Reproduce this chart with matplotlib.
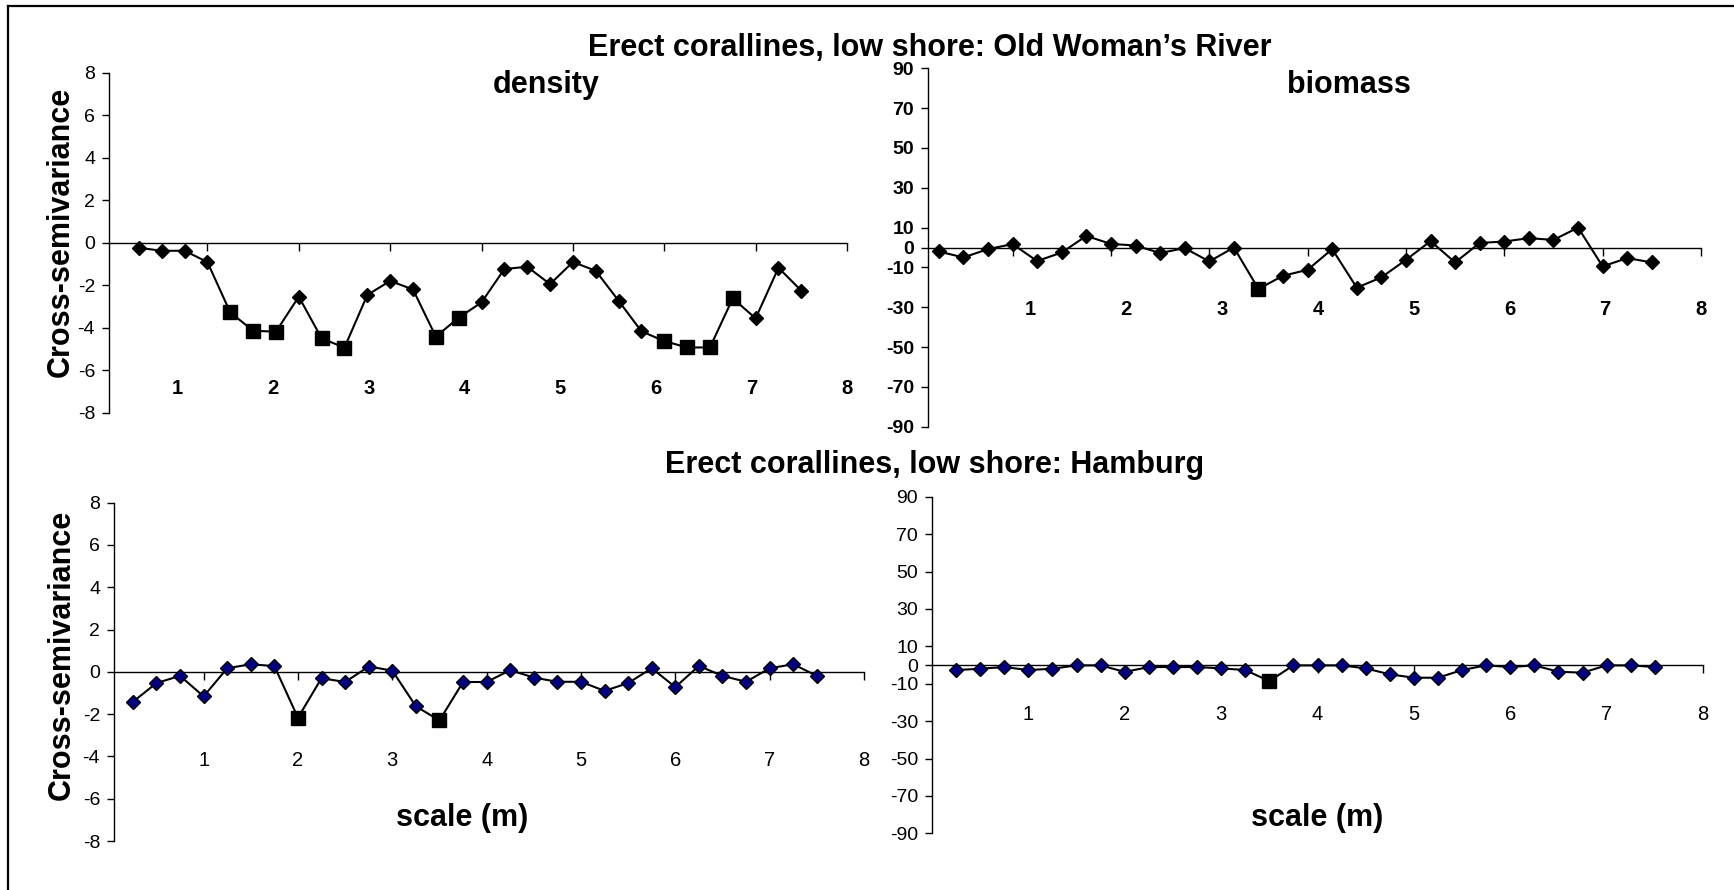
import matplotlib.pyplot as plt
from matplotlib.lines import Line2D

plt.rcParams['font.family'] = ['Liberation Sans', 'DejaVu Sans']

# lag distances (m)
lags = [0.25, 0.5, 0.75, 1.0, 1.25, 1.5, 1.75, 2.0, 2.25, 2.5,
        2.75, 3.0, 3.25, 3.5, 3.75, 4.0, 4.25, 4.5, 4.75, 5.0,
        5.25, 5.5, 5.75, 6.0, 6.25, 6.5, 6.75, 7.0, 7.25, 7.5]

# Old Woman's River
owr_density = [-0.24, -0.38, -0.38, -0.91, -3.28, -4.14, -4.19, -2.54, -4.5, -4.94,
               -2.46, -1.8, -2.2, -4.42, -3.53, -2.81, -1.24, -1.13, -1.95, -0.91,
               -1.32, -2.73, -4.17, -4.63, -4.93, -4.93, -2.62, -3.56, -1.18, -2.26]
owr_density_sig = [4, 5, 6, 8, 9, 13, 14, 23, 24, 25, 26]

owr_biomass = [-2.0, -5.0, -0.8, 1.7, -6.8, -2.5, 5.8, 1.8, 1.0, -2.8,
               -0.3, -7.0, 0.0, -20.8, -14.2, -11.2, -0.8, -20.2, -15.0, -6.2,
               3.2, -7.5, 2.3, 3.0, 4.7, 3.8, 10.0, -9.5, -5.3, -7.5]
owr_biomass_sig = [13]

# Hamburg
ham_density = [-1.42, -0.53, -0.19, -1.16, 0.17, 0.36, 0.27, -2.17, -0.3, -0.48,
               0.25, 0.06, -1.63, -2.3, -0.48, -0.48, 0.08, -0.27, -0.47, -0.47,
               -0.9, -0.53, 0.17, -0.72, 0.28, -0.19, -0.47, 0.17, 0.36, -0.19]
ham_density_sig = [7, 13]

ham_biomass = [-2.7, -2.0, -1.1, -2.7, -2.0, -0.2, -0.2, -3.7, -1.1, -1.1,
               -1.1, -1.8, -2.7, -8.6, -0.2, -0.2, -0.2, -1.8, -5.0, -6.8,
               -6.8, -2.7, -0.2, -1.1, -0.2, -3.6, -4.1, -0.2, -0.2, -1.1]
ham_biomass_sig = [13]

scale_labels = ['1', '2', '3', '4', '5', '6', '7', '8']
density_ticks = [-8, -6, -4, -2, 0, 2, 4, 6, 8]
biomass_ticks = [-90, -70, -50, -30, -10, 0, 10, 30, 50, 70, 90]

W, H = 1734, 890
fig = plt.figure(figsize=(W / 100, H / 100), dpi=100)


def px_axes(left, right, top, bottom):
    return fig.add_axes([left / W, 1 - bottom / H, (right - left) / W, (bottom - top) / H])


def panel(ax, vals, sig, xmin, yticks, face, stretch, lab_y, xbold, ybold):
    ax.plot(lags, vals, color='black', lw=1.5, marker='D', ms=7.2,
            mfc=face, mec='black', mew=1, zorder=3, clip_on=False)
    ax.plot([lags[i] for i in sig], [vals[i] for i in sig], 's', color='black',
            ms=10, zorder=4, clip_on=False)
    ax.set_xlim(xmin, 8)
    ax.set_ylim(yticks[0], yticks[-1])
    for s in ['top', 'right']:
        ax.spines[s].set_visible(False)
    ax.spines['bottom'].set_position(('data', 0))
    ax.spines['bottom'].set_linewidth(1)
    ax.spines['left'].set_linewidth(1)
    ax.set_xticks(range(1, 9))
    ax.tick_params(axis='x', direction='out', length=6, width=1, labelbottom=False)
    ax.set_yticks(yticks)
    ax.set_yticklabels([str(t) for t in yticks], fontsize=14,
                       fontweight='bold' if ybold else 'normal')
    ax.tick_params(axis='y', direction='out', length=5, width=1, pad=5)
    ax.patch.set_alpha(0)
    # category-style labels under the axis
    for k, lab in enumerate(scale_labels, start=1):
        ax.text(8 - stretch * (8 - k), lab_y, lab, ha='center', va='center',
                fontsize=14.5, fontweight='bold' if xbold else 'normal')


ax1 = px_axes(109, 847, 72.7, 412.7)
panel(ax1, owr_density, owr_density_sig, -0.077, density_ticks, 'black', 1.047, -6.85, True, False)
ax2 = px_axes(928, 1701, 68.3, 426.7)
panel(ax2, owr_biomass, owr_biomass_sig, 0.14, biomass_ticks, 'black', 0.974, -31.2, True, True)
ax3 = px_axes(114, 864, 502.7, 841)
panel(ax3, ham_density, ham_density_sig, 0.05, density_ticks, '#000080', 1.0, -4.2, False, False)
ax4 = px_axes(932, 1703, 496.7, 833.3)
panel(ax4, ham_biomass, ham_biomass_sig, 0.0, biomass_ticks, '#000080', 1.0, -26.3, False, False)

big = dict(fontsize=22, fontweight='bold', ha='center')
fig.text(929.5 / W, 1 - 56 / H, 'Erect corallines, low shore: Old Woman\u2019s River', va='baseline', **big)
fig.text(935 / W, 1 - 473 / H, 'Erect corallines, low shore: Hamburg', va='baseline', **big)
fig.text(546 / W, 1 - 93 / H, 'density', va='baseline', **big)
fig.text(1348.5 / W, 1 - 93 / H, 'biomass', va='baseline', **big)
fig.text(462 / W, 1 - 826 / H, 'scale (m)', va='baseline', **big)
fig.text(1317 / W, 1 - 826 / H, 'scale (m)', va='baseline', **big)
fig.text(61 / W, 1 - 232 / H, 'Cross-semivariance', va='center', rotation=90, **big)
fig.text(62 / W, 1 - 655 / H, 'Cross-semivariance', va='center', rotation=90, **big)

# frame lines along top and left edge
fig.add_artist(Line2D([8 / W, 1], [1 - 6 / H, 1 - 6 / H], color='black', lw=1.6))
fig.add_artist(Line2D([8 / W, 8 / W], [1 - 6 / H, 0], color='black', lw=1.6))

fig.savefig('out.png', dpi=100)
